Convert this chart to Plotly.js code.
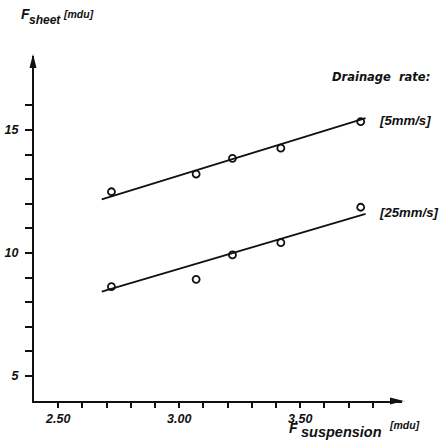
<!DOCTYPE html>
<html>
<head>
<meta charset="utf-8">
<script src="https://cdn.plot.ly/plotly-3.0.1.min.js"></script>
<style>html,body{margin:0;padding:0;background:#fff;}#chart{width:442px;height:442px;}</style>
</head>
<body>
<div id="chart"></div>
<script>
// Data
const xSuspension = [2.72, 3.07, 3.22, 3.42, 3.75];
const sheet5mm = [12.49, 13.21, 13.85, 14.26, 15.34];
const sheet25mm = [8.63, 8.93, 9.92, 10.42, 11.86];
const fitX = [2.68, 3.77];
const fit5mm = [12.18, 15.48];
const fit25mm = [8.43, 11.59];
const xTickVals = [2.5, 2.6, 2.7, 2.8, 2.9, 3.0, 3.1, 3.2, 3.3, 3.4, 3.5, 3.6, 3.7, 3.8];
const xTickText = ["2.50", "", "", "", "", "3.00", "", "", "", "", "3.50", "", "", ""];
const yTickVals = [5, 6, 7, 8, 9, 10, 11, 12, 13, 14, 15, 16];
const yTickText = ["5", "", "", "", "", "10", "", "", "", "", "15", ""];

const L = 34, T = 56, W = 368, H = 345;
function px(x) { return (x - L) / W; }
function py(y) { return (T + H - y) / H; }

const LIB = "Liberation Sans, Arial, sans-serif";
const DJV = "DejaVu Sans, sans-serif";
const ink = "#111";

const markerStyle = {symbol: "circle-open", size: 7, color: ink, line: {width: 1.8, color: ink}};

const traces = [
  {x: fitX, y: fit5mm, mode: "lines", line: {color: ink, width: 1.8}, hoverinfo: "skip"},
  {x: fitX, y: fit25mm, mode: "lines", line: {color: ink, width: 1.8}, hoverinfo: "skip"},
  {x: xSuspension, y: sheet5mm, mode: "markers", marker: markerStyle},
  {x: xSuspension, y: sheet25mm, mode: "markers", marker: markerStyle}
];

const tickFont = {family: LIB, size: 12.5, color: ink, style: "italic", weight: "bold"};

function ann(text, x, y, family, size) {
  return {text: text, xref: "paper", yref: "paper", x: px(x), y: py(y), xanchor: "left", yanchor: "middle",
          showarrow: false, font: {family: family, size: size, color: ink, style: "italic", weight: "bold"}};
}

const layout = {
  width: 442, height: 442,
  margin: {l: L, r: 442 - L - W, t: T, b: 442 - T - H},
  paper_bgcolor: "#fff", plot_bgcolor: "#fff",
  showlegend: false,
  xaxis: {
    range: [2.4, 2.4 + W / 242], showgrid: false, zeroline: false,
    showline: true, linecolor: ink, linewidth: 2,
    ticks: "outside", ticklen: 5, tickwidth: 2, tickcolor: ink,
    tickmode: "array", tickvals: xTickVals, ticktext: xTickText,
    tickfont: tickFont, ticklabelstandoff: 0
  },
  yaxis: {
    range: [15 - (T + H - 130) / 24.6, 15 + (130 - T) / 24.6], showgrid: false, zeroline: false,
    showline: true, linecolor: ink, linewidth: 2,
    ticks: "outside", ticklen: 7, tickwidth: 2, tickcolor: ink,
    tickmode: "array", tickvals: yTickVals, ticktext: yTickText,
    tickfont: tickFont, ticklabelstandoff: 4
  },
  shapes: [
    {type: "path", xref: "paper", yref: "paper",
     path: `M ${px(404)} ${py(401)} L ${px(390)} ${py(397.5)} L ${px(390)} ${py(404.5)} Z`,
     fillcolor: ink, line: {width: 0}},
    {type: "path", xref: "paper", yref: "paper",
     path: `M ${px(33)} ${py(54)} L ${px(29.5)} ${py(68)} L ${px(36.5)} ${py(68)} Z`,
     fillcolor: ink, line: {width: 0}}
  ],
  annotations: [
    // y-axis title
    ann('F', 19, 14, LIB, 14),
    ann('sheet', 27, 20, LIB, 12),
    ann('[mdu]', 61, 14, LIB, 10.5),
    // x-axis title
    ann('F', 287, 428, LIB, 14),
    ann('suspension', 299, 432, LIB, 14.5),
    ann('[mdu]', 387, 425, LIB, 10.5),
    // legend-like labels
    ann('Drainage  rate:', 330, 77, DJV, 11.5),
    ann('[5mm/s]', 377, 121, LIB, 13.2),
    ann('[25mm/s]', 377, 212, LIB, 13.2)
  ]
};

Plotly.newPlot("chart", traces, layout, {staticPlot: true, displayModeBar: false});
</script>
</body>
</html>
